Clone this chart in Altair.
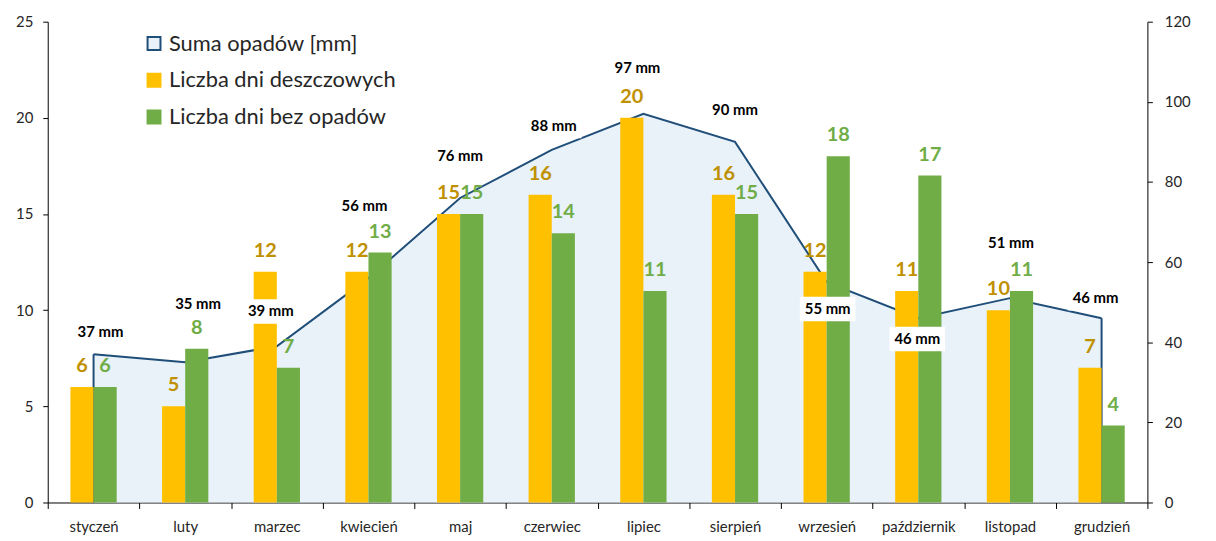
import altair as alt
import pandas as pd

# ---- data ----
months = ["styczeń", "luty", "marzec", "kwiecień", "maj", "czerwiec", "lipiec",
          "sierpień", "wrzesień", "październik", "listopad", "grudzień"]
rainy_days = [6, 5, 12, 12, 15, 16, 20, 16, 12, 11, 10, 7]
dry_days = [6, 8, 7, 13, 15, 14, 11, 15, 18, 17, 11, 4]
precip_mm = [37, 35, 39, 56, 76, 88, 97, 90, 55, 46, 51, 46]
left_ticks = [0, 5, 10, 15, 20, 25]
right_ticks = [0, 20, 40, 60, 80, 100, 120]

# label placement tweaks (pixels), kept apart from the data
mm_label_dx = [7, 13, -6, -4, 0, 2, -6, 0, 1, -1, 1, -6]
mm_label_dy = [-22, -59, -35, -73, -42, -24, -46, -32, 27, 21, -55, -20]

FONT = "Lato"
S_SUM = "Suma opadów [mm]"
S_RAIN = "Liczba dni deszczowych"
S_DRY = "Liczba dni bez opadów"
series_order = [S_SUM, S_RAIN, S_DRY]
fill_range = ["#E9F1F9", "#FFC000", "#70AD47"]
stroke_range = ["#1F4E79", "#FFC000", "#70AD47"]
LINE = "#1F4E79"
PLOT_W = 1107
PLOT_H = 484

precip_df = pd.DataFrame({"month": months, "precip": precip_mm,
                          "dx": mm_label_dx, "dy": mm_label_dy, "series": S_SUM})
precip_df["label"] = precip_df["precip"].astype(str) + " mm"

bars_df = pd.concat([
    pd.DataFrame({"month": months, "value": rainy_days, "series": S_RAIN, "tcolor": "#BF9000"}),
    pd.DataFrame({"month": months, "value": dry_days, "series": S_DRY, "tcolor": "#70AD47"}),
], ignore_index=True)

# ---- encodings ----
x_scale = alt.Scale(domain=months, paddingInner=0, paddingOuter=0)
x_axis = alt.Axis(title=None, labelAngle=0, tickBand="extent", tickSize=6,
                  labelPadding=11, labelFontSize=15)
x_enc = alt.X("month:N", sort=months, scale=x_scale, axis=x_axis)

xoff_enc = alt.XOffset("series:N", sort=[S_RAIN, S_DRY],
                       scale=alt.Scale(domain=[S_RAIN, S_DRY], paddingOuter=0.98, paddingInner=0))

legend_def = alt.Legend(title=None, orient="none", legendX=96, legendY=11,
                        symbolType="square", symbolSize=169, symbolStrokeWidth=2,
                        symbolOpacity=1, labelFont=FONT, labelFontSize=22, labelLimit=0,
                        labelColor="#262626", rowPadding=15, labelOffset=4, padding=0)

fill_enc = alt.Fill("series:N", scale=alt.Scale(domain=series_order, range=fill_range),
                    legend=legend_def)
stroke_enc = alt.Stroke("series:N", scale=alt.Scale(domain=series_order, range=stroke_range),
                        legend=legend_def)

y_right = alt.Y("precip:Q", scale=alt.Scale(domain=[0, 120], nice=False),
                axis=alt.Axis(title=None, orient="right", values=right_ticks,
                              tickSize=5, labelPadding=12))
y_label = alt.Y("label_y:Q", scale=alt.Scale(domain=[0, 120], nice=False), axis=None)
y_left = alt.Y("value:Q", scale=alt.Scale(domain=[0, 25], nice=False),
               axis=alt.Axis(title=None, orient="left", values=left_ticks,
                             tickSize=5, labelPadding=10))

# ---- layers: precipitation (below bars) ----
area = alt.Chart(precip_df).mark_area(strokeWidth=0, opacity=1).encode(
    x=x_enc, y=y_right, fill=fill_enc, stroke=stroke_enc)
line = alt.Chart(precip_df).mark_line(color=LINE, strokeWidth=2).encode(x=x_enc, y=y_right)
edges = alt.Chart(precip_df).transform_filter(
    alt.FieldOneOfPredicate(field="month", oneOf=[months[0], months[-1]])
).mark_rule(color=LINE, strokeWidth=2).encode(x=x_enc, y=y_right, y2=alt.datum(0))
precip_group = alt.layer(area, line, edges)

# ---- bars ----
bars = alt.Chart(bars_df).mark_bar(strokeWidth=0).encode(
    x=x_enc, xOffset=xoff_enc, y=y_left, fill=fill_enc, stroke=stroke_enc)
bar_labels = alt.Chart(bars_df).mark_text(
    dy=-21, font=FONT, fontSize=20, fontWeight="bold", baseline="middle"
).encode(x=x_enc, xOffset=xoff_enc, y=y_left, text="value:Q",
         color=alt.Color("tcolor:N", scale=None))
bar_group = alt.layer(bars, bar_labels)

# ---- mm labels with white boxes ----
BOX = "M-1,-0.44L1,-0.44L1,0.44L-1,0.44Z"
label_base = alt.Chart(precip_df).transform_calculate(
    label_y=f"datum.precip - datum.dy * 120 / {PLOT_H}",
    label_dx=f"datum.dx + {PLOT_W} / {len(months)} / 2",
)
boxes = label_base.mark_point(
    shape=BOX, filled=True, color="white", opacity=1, size=56 * 56, strokeWidth=0
).encode(x=x_enc, y=y_label, xOffset=alt.XOffset("label_dx:Q", scale=None))
mm_text = label_base.mark_text(
    font=FONT, fontSize=15, fontWeight="bold", color="black", baseline="middle"
).encode(x=x_enc, y=y_label, text="label:N",
         xOffset=alt.XOffset("label_dx:Q", scale=None))
label_group = alt.layer(boxes, mm_text)

chart = alt.layer(precip_group, bar_group, label_group).resolve_scale(
    y="independent"
).properties(
    width=PLOT_W, height=PLOT_H,
    autosize=alt.AutoSizeParams(type="none"),
    padding={"left": 40, "top": 12, "right": 61, "bottom": 40},
).configure_view(stroke=None).configure_axis(
    grid=False, domainColor="black", tickColor="black", domainWidth=1,
    labelFont=FONT, labelFontSize=15, labelColor="#262626"
)

chart.save("out.html", embed_options={"renderer": "svg", "actions": False})
